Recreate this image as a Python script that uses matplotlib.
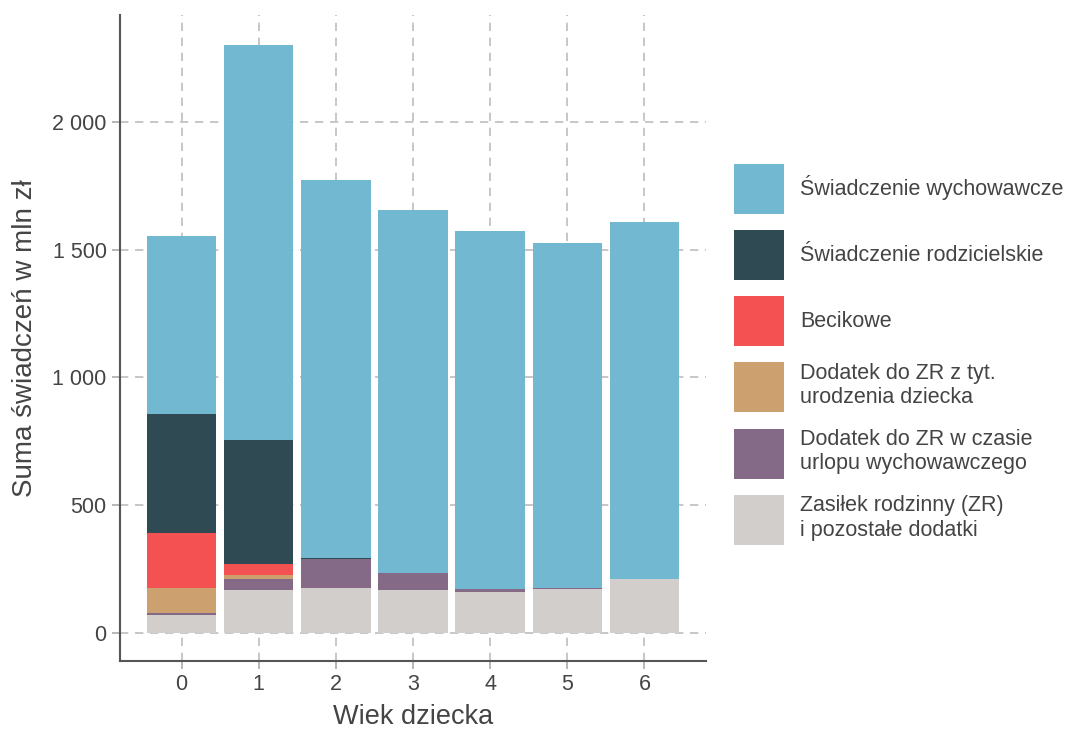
import numpy as np
import matplotlib.pyplot as plt
from matplotlib.patches import Patch
from matplotlib.ticker import FuncFormatter

plt.rcParams['font.family'] = ['Liberation Sans', 'DejaVu Sans']

ages = [0, 1, 2, 3, 4, 5, 6]
zasilek = [70, 168, 177, 168, 159, 173, 210]
dod_urlop = [7, 43, 113, 67, 13, 2, 1]
dod_urodz = [98, 15, 0, 0, 0, 0, 0]
becikowe = [215, 44, 0, 0, 0, 0, 0]
rodzicielskie = [467, 484, 2, 0, 0, 0, 0]
wychowawcze = [697, 1547, 1481, 1421, 1401, 1351, 1398]

series = [
    (zasilek, '#D2CECB', 'Zasiłek rodzinny (ZR)\ni pozostałe dodatki'),
    (dod_urlop, '#846A87', 'Dodatek do ZR w czasie\nurlopu wychowawczego'),
    (dod_urodz, '#CDA070', 'Dodatek do ZR z tyt.\nurodzenia dziecka'),
    (becikowe, '#F45252', 'Becikowe'),
    (rodzicielskie, '#2F4A53', 'Świadczenie rodzicielskie'),
    (wychowawcze, '#71B8D0', 'Świadczenie wychowawcze'),
]

fig = plt.figure(figsize=(10.7, 7.32), dpi=100)
ax = fig.add_axes([0.112, 0.097, 0.548, 0.883])

bottom = np.zeros(len(ages))
for vals, col, lab in series:
    ax.bar(ages, vals, bottom=bottom, width=0.9, color=col, zorder=2)
    bottom += np.array(vals)

ax.set_xlim(-0.8, 6.8)
ax.set_ylim(-110, 2419)
ax.set_xticks(ages)
ax.set_yticks([0, 500, 1000, 1500, 2000])
ax.yaxis.set_major_formatter(FuncFormatter(lambda v, p: f'{int(v):,}'.replace(',', ' ')))
ax.grid(True, color='#BDBDBD', linestyle=(0, (5, 4)), linewidth=1.2, zorder=0)
ax.set_axisbelow(True)

for s in ['top', 'right']:
    ax.spines[s].set_visible(False)
for s in ['left', 'bottom']:
    ax.spines[s].set_color('#555555')
    ax.spines[s].set_linewidth(1.5)
ax.tick_params(colors='#AAAAAA', labelcolor='#444444', labelsize=15.5, length=6, width=1.2)

ax.set_xlabel('Wiek dziecka', fontsize=19.5, color='#444444', labelpad=6)
ax.set_ylabel('Suma świadczeń w mln zł', fontsize=20, color='#444444', labelpad=10)

# legend boxes ~50 px square, 66 px apart
handles = [Patch(facecolor=c, label=l) for v, c, l in series[::-1]]
fig.legend(handles=handles, loc='center left', bbox_to_anchor=(0.686, 0.516),
           frameon=False, fontsize=15.5, handlelength=2.32, handleheight=3.2,
           labelspacing=0.75, handletextpad=0.75, borderaxespad=0, borderpad=0,
           labelcolor='#444444')

fig.savefig('out.png', dpi=100)
